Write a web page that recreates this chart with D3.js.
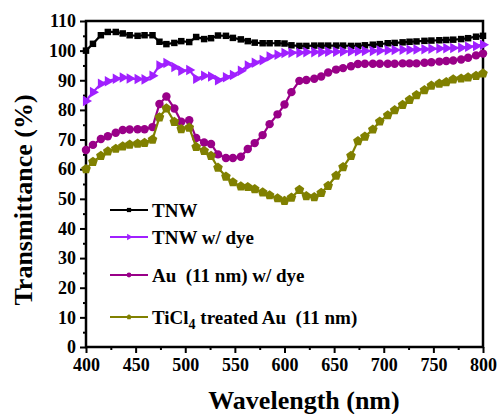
<!DOCTYPE html>
<html>
<head>
<meta charset="utf-8">
<script src="https://cdn.jsdelivr.net/npm/d3@7"></script>
<style>
  body { margin: 0; background: #fff; }
  svg text { font-family: "Liberation Serif", "Times New Roman", Times, "DejaVu Serif", serif !important; font-weight: bold; }
</style>
</head>
<body>
<div id="chart"></div>
<script>
// wavelength (nm) of each measured point
var wavelength = [400, 407, 415, 422, 430, 437, 444, 452, 459, 467, 474, 481, 489, 496, 504, 511, 519, 526, 533, 541,
    548, 556, 563, 570, 578, 585, 593, 600, 607, 615, 622, 630, 637, 644, 652, 659, 667, 674, 681, 689,
    696, 704, 711, 719, 726, 733, 741, 748, 756, 763, 770, 778, 785, 793, 800];

var tnw = [100, 102.3, 105.2, 106.3, 106.3, 105.8, 105.2, 105, 105.2, 105.2, 103, 102.2, 102.6, 103.2, 102.9, 104.6, 103.9, 104.2, 105.1, 105,
    104.3, 103.8, 103.2, 102.7, 102.5, 102.5, 102.5, 102.4, 101.8, 101.6, 101.6, 101.7, 101.7, 101.7, 101.7, 101.7, 101.6, 101.6, 101.8, 102,
    102.2, 102.5, 102.6, 102.8, 103, 103.1, 103.3, 103.4, 103.5, 103.6, 103.7, 103.9, 104.2, 104.7, 105];

var tnwDye = [83, 86, 88.8, 89.7, 90.5, 90.9, 90.6, 90.4, 90.3, 91.5, 95, 95.8, 94.5, 93.2, 93.5, 90.5, 91.5, 91.3, 90, 91,
    91.8, 93.2, 95, 95.9, 96.8, 98, 98.6, 99.2, 99.3, 99.3, 99.5, 99.5, 99.5, 99.6, 99.6, 99.7, 99.8, 99.8, 99.9, 99.9,
    100, 100.1, 100.2, 100.3, 100.3, 100.4, 100.5, 100.6, 100.7, 100.8, 100.9, 101, 101.3, 101.6, 102];

var auDye = [66.5, 68.2, 70.2, 71.1, 72.3, 73.2, 73.4, 73.5, 73.5, 74.2, 82, 84.5, 80.5, 76, 76.5, 70.5, 69, 68.5, 65, 63.8,
    63.8, 64.2, 66.8, 68.8, 71.5, 75.2, 78.5, 81.8, 86, 89.8, 90.1, 90.5, 91.3, 92.6, 93.6, 94.1, 94.7, 95.5, 95.6, 95.6,
    95.6, 95.6, 95.6, 95.7, 95.7, 95.7, 95.9, 96.1, 96.3, 96.5, 96.7, 97, 97.6, 98.4, 99];

var ticl4Au = [60, 62.5, 64.5, 66, 66.9, 67.7, 68.3, 68.6, 68.9, 70, 77.5, 80.5, 76, 73.5, 74, 67.5, 66.2, 64.5, 60.5, 57.5,
    55.6, 54.2, 54, 53.3, 52.2, 51.2, 50.2, 49.3, 50.4, 53, 50.9, 50.6, 52, 54.4, 57.8, 60.7, 64.5, 69.5, 71, 73.4,
    76.1, 78.2, 79.9, 81.7, 83.4, 85, 86.7, 88.2, 88.9, 89.4, 90.3, 90.6, 91, 91.5, 92.3];

var seriesNames = ["TNW", "TNW w/ dye", "Au  (11 nm) w/ dye", "TiCl4 treated Au  (11 nm)"];
var seriesColors = ["#000000", "#a020ff", "#990088", "#808000"];
var xTicks = [400, 450, 500, 550, 600, 650, 700, 750, 800];
var yTicks = [0, 10, 20, 30, 40, 50, 60, 70, 80, 90, 100, 110];

var width = 499,
    height = 414,
    margin = {top: 21, right: 16, bottom: 67, left: 86};

var svg = d3.select("#chart").append("svg")
    .attr("width", width)
    .attr("height", height);

var x = d3.scaleLinear().domain([400, 800]).range([margin.left, width - margin.right]);
var y = d3.scaleLinear().domain([0, 110]).range([height - margin.bottom, margin.top]);

// minor ticks
svg.append("g")
    .attr("transform", "translate(0," + (height - margin.bottom) + ")")
    .call(d3.axisBottom(x).tickValues(d3.range(425, 800, 50)).tickSize(3).tickFormat(""))
    .call(g => g.select(".domain").remove())
    .selectAll("line").attr("stroke-width", 2);
svg.append("g")
    .attr("transform", "translate(" + margin.left + ",0)")
    .call(d3.axisLeft(y).tickValues(d3.range(5, 110, 10)).tickSize(3).tickFormat(""))
    .call(g => g.select(".domain").remove())
    .selectAll("line").attr("stroke-width", 2);

// major axes
var xAxis = svg.append("g")
    .attr("transform", "translate(0," + (height - margin.bottom) + ")")
    .call(d3.axisBottom(x).tickValues(xTicks).tickSize(6).tickPadding(5));
var yAxis = svg.append("g")
    .attr("transform", "translate(" + margin.left + ",0)")
    .call(d3.axisLeft(y).tickValues(yTicks).tickSize(6).tickPadding(4));

[xAxis, yAxis].forEach(function(a) {
    a.attr("font-family", null).attr("font-size", null);
    a.select(".domain").remove();
    a.selectAll("line").attr("stroke-width", 2);
    a.selectAll("text")
        .attr("font-size", 18)
        .attr("fill", "#000");
});

// frame
svg.append("rect")
    .attr("x", margin.left)
    .attr("y", margin.top)
    .attr("width", width - margin.left - margin.right)
    .attr("height", height - margin.top - margin.bottom)
    .attr("fill", "none")
    .attr("stroke", "#000")
    .attr("stroke-width", 2.5);

// marker shapes
var pentagon = {
    draw: function(context, size) {
        var r = Math.sqrt(size / 2.4);
        for (var i = 0; i < 5; i++) {
            var a = -Math.PI / 2 + i * 2 * Math.PI / 5;
            if (i === 0) context.moveTo(r * Math.cos(a), r * Math.sin(a));
            else context.lineTo(r * Math.cos(a), r * Math.sin(a));
        }
        context.closePath();
    }
};
var shapes = [d3.symbolSquare, d3.symbolTriangle, d3.symbolCircle, pentagon];
var rotations = [0, 90, 0, 0];
var sizes = [42, 48, 56, 62];

var allSeries = [tnw, tnwDye, auDye, ticl4Au];

var line = d3.line()
    .x(function(d) { return x(d[0]); })
    .y(function(d) { return y(d[1]); });

allSeries.forEach(function(vals, i) {
    var pts = wavelength.map(function(w, j) { return [w, vals[j]]; });
    var g = svg.append("g");
    g.append("path")
        .datum(pts)
        .attr("d", line)
        .attr("fill", "none")
        .attr("stroke", seriesColors[i])
        .attr("stroke-width", 2.2);
    g.selectAll("path.pt")
        .data(pts)
        .enter().append("path")
        .attr("class", "pt")
        .attr("d", d3.symbol().type(shapes[i]).size(sizes[i]))
        .attr("transform", function(d) {
            return "translate(" + x(d[0]) + "," + y(d[1]) + ") rotate(" + rotations[i] + ")";
        })
        .attr("fill", seriesColors[i]);
});

// legend
var legendY = [210, 237, 275, 317];
var legend = svg.append("g");
seriesNames.forEach(function(name, i) {
    legend.append("line")
        .attr("x1", 110).attr("x2", 148)
        .attr("y1", legendY[i]).attr("y2", legendY[i])
        .attr("stroke", seriesColors[i])
        .attr("stroke-width", 2);
    legend.append("path")
        .attr("d", d3.symbol().type(shapes[i]).size(18))
        .attr("transform", "translate(129," + legendY[i] + ") rotate(" + rotations[i] + ")")
        .attr("fill", seriesColors[i]);
    var t = legend.append("text")
        .attr("x", 152)
        .attr("y", legendY[i] + 6.5)
        .attr("font-size", 19)
        .attr("fill", "#000")
        .style("white-space", "pre");
    if (i === 3) {
        t.append("tspan").text("TiCl");
        t.append("tspan").attr("font-size", 14).attr("dy", 5).text("4");
        t.append("tspan").attr("dy", -5).text(" treated Au  (11 nm)");
    } else {
        t.text(name);
    }
});

// axis titles
svg.append("text")
    .attr("x", 304)
    .attr("y", 409)
    .attr("text-anchor", "middle")
    .attr("font-size", 26)
    .text("Wavelength (nm)");

svg.append("text")
    .attr("transform", "translate(32,200) rotate(-90)")
    .attr("text-anchor", "middle")
    .attr("font-size", 26)
    .text("Transmittance (%)");
</script>
</body>
</html>
